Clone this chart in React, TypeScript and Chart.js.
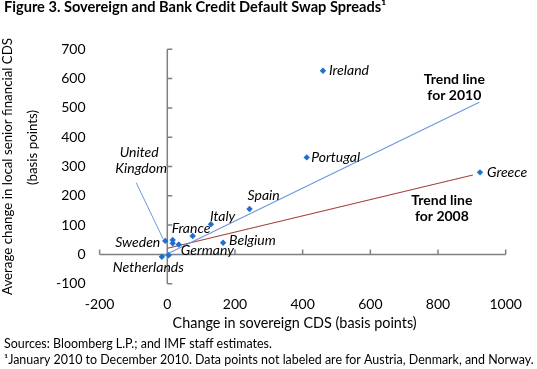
import React, { useEffect, useRef } from "react";
import { Chart, registerables } from "chart.js";

Chart.register(...registerables);

// ---------------- Data ----------------
const COUNTRIES = [
  "Ireland", "Portugal", "Greece", "Spain", "Italy", "Belgium", "France",
  "Germany", "Sweden", "United Kingdom", "Netherlands", "Austria", "Denmark",
];
const SOVEREIGN_CDS_CHANGE = [460, 412, 924, 243, 129, 165, 75, 34, -6, 16, -16, 16, 4];
const BANK_CDS_CHANGE = [627, 331, 280, 155, 103, 40, 63, 34, 46, 49, -8, 38, -3];

const TREND_2010_X = [-20, 922];
const TREND_2010_Y = [-10, 519];
const TREND_2008_X = [1, 903];
const TREND_2008_Y = [21, 271];

const UK_LEADER_X = [-92, -12];
const UK_LEADER_Y = [245, 52];

const X_TICKS = [-200, 0, 200, 400, 600, 800, 1000];
const Y_TICKS = [-100, 0, 100, 200, 300, 400, 500, 600, 700];

const TITLE = "Figure 3. Sovereign and Bank Credit Default Swap Spreads\u00B9";
const X_TITLE = "Change in sovereign CDS (basis points)";
const Y_TITLE_1 = "Average change in local senior financial CDS";
const Y_TITLE_2 = "(basis points)";
const SOURCE_NOTE = "Sources: Bloomberg L.P.; and IMF staff estimates.";
const FOOTNOTE = "\u00B9January 2010 to December 2010. Data points not labeled are for Austria, Denmark, and Norway.";

// ---------------- Styles / label placement ----------------
const FONT = "Lato, 'Open Sans', sans-serif";
const POINT_COLOR = "#1f6fd1";
const BLUE_LINE = "#6a98e0";
const RED_LINE = "#a5403c";
const AXIS_COLOR = "#808080";

type Lbl = { name: string; text: string; dx: number; dy: number; align: CanvasTextAlign };
const POINT_LABELS: Lbl[] = [
  { name: "Ireland", text: "Ireland", dx: 6, dy: 0, align: "left" },
  { name: "Portugal", text: "Portugal", dx: 4.5, dy: 0, align: "left" },
  { name: "Greece", text: "Greece", dx: 7, dy: 0.5, align: "left" },
  { name: "Spain", text: "Spain", dx: -2, dy: -14, align: "left" },
  { name: "Italy", text: "Italy", dx: -1, dy: -8, align: "left" },
  { name: "France", text: "France", dx: -21, dy: -7, align: "left" },
  { name: "Belgium", text: "Belgium", dx: 6, dy: -2, align: "left" },
  { name: "Germany", text: "Germany", dx: 2, dy: 6, align: "left" },
  { name: "Sweden", text: "Sweden", dx: -5, dy: 2, align: "right" },
  { name: "Netherlands", text: "Netherlands", dx: -49, dy: 11, align: "left" },
];

const textPlugin = {
  id: "figureText",
  beforeDatasetsDraw(chart: any) {
    const { ctx, scales } = chart;
    const x = scales.x, y = scales.y;
    const x0 = x.getPixelForValue(0);
    const y0 = y.getPixelForValue(0);
    ctx.save();
    ctx.strokeStyle = AXIS_COLOR;
    ctx.lineWidth = 1.5;
    ctx.beginPath();
    ctx.moveTo(x.getPixelForValue(X_TICKS[0]), y0);
    ctx.lineTo(x.getPixelForValue(X_TICKS[X_TICKS.length - 1]), y0);
    ctx.moveTo(x0, y.getPixelForValue(Y_TICKS[0]));
    ctx.lineTo(x0, y.getPixelForValue(Y_TICKS[Y_TICKS.length - 1]));
    for (const v of X_TICKS) {
      const p = x.getPixelForValue(v);
      ctx.moveTo(p, y0);
      ctx.lineTo(p, y0 - 5);
    }
    for (const v of Y_TICKS) {
      const p = y.getPixelForValue(v);
      ctx.moveTo(x0, p);
      ctx.lineTo(x0 + 5, p);
    }
    ctx.stroke();
    ctx.restore();
  },
  afterDatasetsDraw(chart: any) {
    const { ctx, scales } = chart;
    const x = scales.x, y = scales.y;
    ctx.save();
    ctx.fillStyle = "#000";
    ctx.textBaseline = "middle";
    ctx.font = `italic 14px ${FONT}`;
    for (const l of POINT_LABELS) {
      const i = COUNTRIES.indexOf(l.name);
      const px = x.getPixelForValue(SOVEREIGN_CDS_CHANGE[i]);
      const py = y.getPixelForValue(BANK_CDS_CHANGE[i]);
      ctx.textAlign = l.align;
      ctx.fillText(l.text, px + l.dx, py + l.dy);
    }
    // United Kingdom label at the start of its leader line
    const ux = x.getPixelForValue(UK_LEADER_X[0]);
    const uy = y.getPixelForValue(UK_LEADER_Y[0]);
    ctx.textAlign = "center";
    ctx.fillText("United", ux + 3, uy - 30);
    ctx.fillText("Kingdom", ux + 5, uy - 14);

    // trend line labels
    ctx.font = `bold 14px ${FONT}`;
    const bx = x.getPixelForValue(TREND_2010_X[1]);
    const by = y.getPixelForValue(TREND_2010_Y[1]);
    ctx.fillText("Trend line", bx - 25, by - 23);
    ctx.fillText("for 2010", bx - 25, by - 7);
    const rx = x.getPixelForValue(TREND_2008_X[1]);
    const ry = y.getPixelForValue(TREND_2008_Y[1]);
    ctx.fillText("Trend line", rx - 31, ry + 25);
    ctx.fillText("for 2008", rx - 31, ry + 41);
    ctx.restore();
  },
  afterDraw(chart: any) {
    const { ctx, chartArea } = chart;
    ctx.save();
    ctx.fillStyle = "#000";
    ctx.textBaseline = "alphabetic";
    // title
    ctx.textAlign = "left";
    ctx.font = `bold 14.6px ${FONT}`;
    ctx.fillText(TITLE, 4, 11.5);
    // footnotes
    ctx.font = `12.45px ${FONT}`;
    ctx.fillText(SOURCE_NOTE, 4, 348);
    ctx.fillText(FOOTNOTE, 4, 363.5);
    // x title
    ctx.textAlign = "center";
    ctx.font = `14.4px ${FONT}`;
    ctx.fillText(X_TITLE, (chartArea.left + chartArea.right) / 2 - 8, 327.5);
    // y title (rotated)
    ctx.font = `13.3px ${FONT}`;
    const mid = (chartArea.top + chartArea.bottom) / 2;
    ctx.save();
    ctx.translate(12, mid);
    ctx.rotate(-Math.PI / 2);
    ctx.fillText(Y_TITLE_1, 0, 0);
    ctx.restore();
    ctx.save();
    ctx.translate(37, mid - 19);
    ctx.rotate(-Math.PI / 2);
    ctx.fillText(Y_TITLE_2, 0, 0);
    ctx.restore();
    ctx.restore();
  },
};

const fmt = (v: any) => String(v);

export default function App() {
  const ref = useRef<HTMLCanvasElement | null>(null);
  useEffect(() => {
    document.body.style.margin = "0";
    const canvas = ref.current;
    if (!canvas) return;
    const pts = COUNTRIES.map((_, i) => ({ x: SOVEREIGN_CDS_CHANGE[i], y: BANK_CDS_CHANGE[i] }));
    const t2010 = TREND_2010_X.map((v, i) => ({ x: v, y: TREND_2010_Y[i] }));
    const t2008 = TREND_2008_X.map((v, i) => ({ x: v, y: TREND_2008_Y[i] }));
    const leader = UK_LEADER_X.map((v, i) => ({ x: v, y: UK_LEADER_Y[i] }));
    const chart = new Chart(canvas, {
      type: "scatter",
      data: {
        datasets: [
          {
            label: "Countries",
            data: pts,
            pointStyle: "rectRot",
            pointRadius: 3.2,
            pointBackgroundColor: POINT_COLOR,
            pointBorderColor: POINT_COLOR,
            pointBorderWidth: 0,
            showLine: false,
          } as any,
          {
            label: "Trend line for 2010",
            data: t2010,
            showLine: true,
            borderColor: BLUE_LINE,
            borderWidth: 1.2,
            pointRadius: 0,
          },
          {
            label: "Trend line for 2008",
            data: t2008,
            showLine: true,
            borderColor: RED_LINE,
            borderWidth: 1.2,
            pointRadius: 0,
          },
          {
            label: "United Kingdom leader",
            data: leader,
            showLine: true,
            borderColor: BLUE_LINE,
            borderWidth: 1,
            pointRadius: 0,
          },
        ],
      },
      options: {
        animation: false,
        responsive: false,
        maintainAspectRatio: false,
        devicePixelRatio: 1,
        layout: { padding: { top: 49.3, right: 31.3, bottom: 45.3, left: 0 } },
        plugins: { legend: { display: false }, tooltip: { enabled: false } },
        scales: {
          x: {
            type: "linear",
            min: -200,
            max: 1000,
            afterBuildTicks: (s: any) => { s.ticks = X_TICKS.map((v) => ({ value: v })); },
            ticks: { padding: 12, color: "#000", font: { family: FONT, size: 14 }, callback: fmt },
            grid: { display: false, drawTicks: false },
            border: { display: false },
            afterFit: (s: any) => { s.height = 40; },
          },
          y: {
            type: "linear",
            min: -100,
            max: 700,
            afterBuildTicks: (s: any) => { s.ticks = Y_TICKS.map((v) => ({ value: v })); },
            ticks: { padding: 14, color: "#000", font: { family: FONT, size: 14 }, callback: fmt },
            grid: { display: false, drawTicks: false },
            border: { display: false },
            afterFit: (s: any) => { s.width = 99.6; },
          },
        },
      } as any,
      plugins: [textPlugin],
    });
    return () => chart.destroy();
  }, []);
  return (
    <div style={{ width: 537, height: 369, background: "#fff" }}>
      <canvas ref={ref} width={537} height={369} style={{ display: "block" }} />
    </div>
  );
}
